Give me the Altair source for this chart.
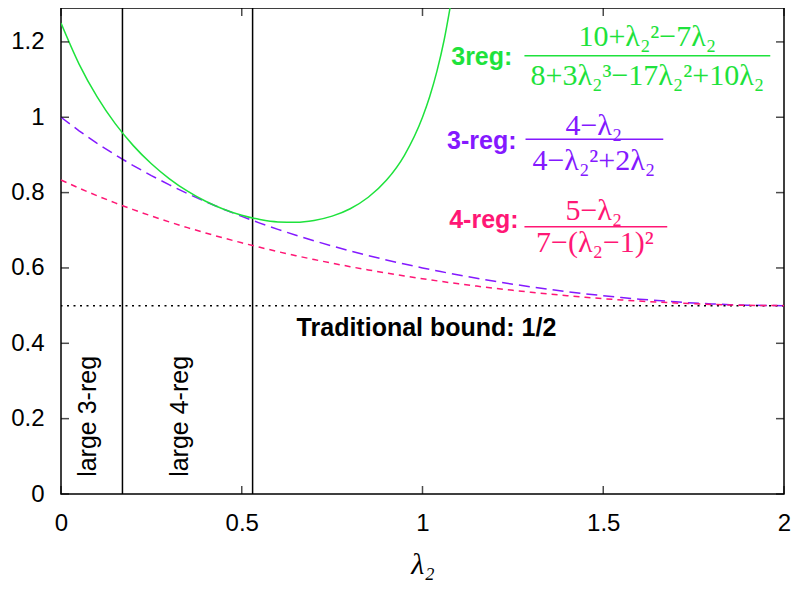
import altair as alt
import pandas as pd

# ---- data ----
lam = [0.00, 0.05, 0.10, 0.15, 0.20, 0.25, 0.30, 0.35, 0.40, 0.45, 0.50,
       0.55, 0.60, 0.65, 0.70, 0.75, 0.80, 0.85, 0.90, 0.95, 1.00,
       1.05, 1.10, 1.15, 1.20, 1.25, 1.30, 1.35, 1.40, 1.45, 1.50,
       1.55, 1.60, 1.65, 1.70, 1.75, 1.80, 1.85, 1.90, 1.95, 2.00]
reg3_y = [1.0000, 0.9640, 0.9308, 0.9001, 0.8716, 0.8451, 0.8204, 0.7974, 0.7759, 0.7557, 0.7368,
          0.7191, 0.7025, 0.6868, 0.6721, 0.6582, 0.6452, 0.6329, 0.6212, 0.6103, 0.6000,
          0.5903, 0.5812, 0.5726, 0.5645, 0.5570, 0.5499, 0.5433, 0.5372, 0.5315, 0.5263,
          0.5216, 0.5172, 0.5134, 0.5100, 0.5070, 0.5046, 0.5026, 0.5012, 0.5003, 0.5000]
reg4_y = [0.8333, 0.8118, 0.7916, 0.7726, 0.7547, 0.7379, 0.7220, 0.7070, 0.6928, 0.6794, 0.6667,
          0.6547, 0.6433, 0.6325, 0.6223, 0.6126, 0.6034, 0.5948, 0.5866, 0.5788, 0.5714,
          0.5645, 0.5579, 0.5518, 0.5460, 0.5405, 0.5355, 0.5307, 0.5263, 0.5223, 0.5185,
          0.5151, 0.5120, 0.5093, 0.5069, 0.5049, 0.5031, 0.5018, 0.5008, 0.5002, 0.5000]
lam_g = [0.00, 0.05, 0.10, 0.15, 0.20, 0.25, 0.30, 0.35, 0.40, 0.45, 0.50,
         0.55, 0.60, 0.65, 0.70, 0.75, 0.80, 0.85, 0.90, 0.95, 1.00,
         1.02, 1.04, 1.06, 1.08]
g3reg_y = [1.2500, 1.1412, 1.0540, 0.9830, 0.9247, 0.8764, 0.8366, 0.8037, 0.7770, 0.7558, 0.7397,
           0.7286, 0.7223, 0.7213, 0.7261, 0.7375, 0.7572, 0.7876, 0.8326, 0.8991, 1.0000,
           1.0551, 1.1223, 1.2057, 1.3113]

x_ticks = [0, 0.5, 1, 1.5, 2]
y_ticks = [0, 0.2, 0.4, 0.6, 0.8, 1.0, 1.2]
region_x = [0.17, 0.53]
region_labels = ["large 3-reg", "large 4-reg"]
region_label_x = [0.074, 0.33]
region_label_y = [0.206, 0.206]
bound_y = [0.5]
bound_text = ["Traditional bound: 1/2"]
bound_text_x = [1.011]
bound_text_y = [0.441]

names = ["3reg:", "3-reg:", "4-reg:"]
name_x = [1.164, 1.164, 1.170]
name_y = [1.160, 0.937, 0.727]
numer = ["10+λ₂²−7λ₂", "4−λ₂", "5−λ₂"]
numer_x = [1.622, 1.474, 1.474]
numer_y = [1.213, 0.977, 0.751]
denom = ["8+3λ₂³−17λ₂²+10λ₂", "4−λ₂²+2λ₂", "7−(λ₂−1)²"]
denom_x = [1.622, 1.474, 1.477]
denom_y = [1.110, 0.884, 0.666]
bar_x1 = [1.282, 1.285, 1.282]
bar_x2 = [1.962, 1.666, 1.677]
bar_y = [1.1635, 0.9416, 0.7096]

# ---- styling ----
GREEN = "#1ee23c"
PURPLE = "#8419ff"
PINK = "#ff1775"
colors = [GREEN, PURPLE, PINK]
SANS = "Liberation Sans"
SERIF = "Liberation Serif"
W, H = 723, 486

xs = alt.Scale(domain=[0, 2], nice=False, zero=False)
ys = alt.Scale(domain=[0, 1.29], nice=False, zero=False)

x_axis = alt.Axis(values=x_ticks, format="~g", ticks=False, tickSize=0, domain=False,
                  grid=False, labelFont=SANS, labelFontSize=24, labelColor="black",
                  labelPadding=17, labelFlush=False, labelOverlap=False,
                  title="λ₂", titleFont=SERIF, titleFontStyle="italic", titleFontSize=30,
                  titleFontWeight="normal", titleColor="black", titlePadding=14)
y_axis = alt.Axis(values=y_ticks, format="~g", ticks=False, tickSize=0, domain=False,
                  grid=False, labelFont=SANS, labelFontSize=24, labelColor="black",
                  labelPadding=17, labelFlush=False, labelOverlap=False, title="")


def X(field="x"):
    return alt.X(f"{field}:Q", scale=xs, axis=x_axis, title="λ₂")


def Y(field="y"):
    return alt.Y(f"{field}:Q", scale=ys, axis=y_axis, title="")


df3 = pd.DataFrame({"x": lam, "y": reg3_y})
df4 = pd.DataFrame({"x": lam, "y": reg4_y})
dfg = pd.DataFrame({"x": lam_g, "y": g3reg_y})

line3 = alt.Chart(df3).mark_line(color=PURPLE, strokeWidth=1.5, strokeDash=[11, 6]).encode(x=X(), y=Y())
line4 = alt.Chart(df4).mark_line(color=PINK, strokeWidth=1.5, strokeDash=[6, 5]).encode(x=X(), y=Y())
lineg = alt.Chart(dfg).mark_line(color=GREEN, strokeWidth=1.5, clip=True,
                                 interpolate="monotone").encode(x=X(), y=Y())

vlines = alt.Chart(pd.DataFrame({"x": region_x})).mark_rule(color="black", strokeWidth=1.5).encode(x=X())
bline = alt.Chart(pd.DataFrame({"y": bound_y})).mark_rule(color="black", strokeWidth=1.5,
                                                          strokeDash=[2, 4.5]).encode(y=Y())

# inward ticks on all four sides
tx = pd.DataFrame({"x": x_ticks})
ty = pd.DataFrame({"y": y_ticks})
tick_b = alt.Chart(tx).mark_tick(orient="vertical", size=8, thickness=1.5, color="black").encode(
    x=X(), y=alt.value(H - 4))
tick_t = alt.Chart(tx).mark_tick(orient="vertical", size=8, thickness=1.5, color="black").encode(
    x=X(), y=alt.value(4))
tick_l = alt.Chart(ty).mark_tick(orient="horizontal", size=8, thickness=1.5, color="black").encode(
    y=Y(), x=alt.value(4))
tick_r = alt.Chart(ty).mark_tick(orient="horizontal", size=8, thickness=1.5, color="black").encode(
    y=Y(), x=alt.value(W - 4))

reg_txt = alt.Chart(pd.DataFrame({"t": region_labels, "x": region_label_x, "y": region_label_y})).mark_text(
    font=SANS, fontSize=25, color="black", angle=270, align="center", baseline="middle").encode(
    x=X(), y=Y(), text="t:N")
bound_txt = alt.Chart(pd.DataFrame({"t": bound_text, "x": bound_text_x, "y": bound_text_y})).mark_text(
    font=SANS, fontSize=25, fontWeight="bold", color="black", align="center", baseline="middle").encode(
    x=X(), y=Y(), text="t:N")

ann_layers = []
for i in range(3):
    c = colors[i]
    d_name = pd.DataFrame({"t": [names[i]], "x": [name_x[i]], "y": [name_y[i]]})
    d_num = pd.DataFrame({"t": [numer[i]], "x": [numer_x[i]], "y": [numer_y[i]]})
    d_den = pd.DataFrame({"t": [denom[i]], "x": [denom_x[i]], "y": [denom_y[i]]})
    d_bar = pd.DataFrame({"x": [bar_x1[i]], "x2": [bar_x2[i]], "y": [bar_y[i]]})
    ann_layers.append(alt.Chart(d_name).mark_text(
        font=SANS, fontSize=25, fontWeight="bold", color=c, align="center", baseline="middle").encode(
        x=X(), y=Y(), text="t:N"))
    for d in (d_num, d_den):
        ann_layers.append(alt.Chart(d).mark_text(
            font=SERIF, fontSize=30, color=c, align="center", baseline="middle").encode(
            x=X(), y=Y(), text="t:N"))
    ann_layers.append(alt.Chart(d_bar).mark_rule(color=c, strokeWidth=1.5).encode(
        x=X(), x2="x2:Q", y=Y()))

chart = alt.layer(
    line3, vlines, bline, line4, lineg, tick_b, tick_t, tick_l, tick_r,
    reg_txt, bound_txt, *ann_layers
).properties(
    width=W, height=H,
    autosize=alt.AutoSizeParams(type="none"),
    padding={"left": 53, "top": 0, "right": 7, "bottom": 88},
    background="white",
).configure_view(stroke="black", strokeWidth=1.5)

chart.save("out.html", embed_options={"renderer": "svg", "actions": False})
